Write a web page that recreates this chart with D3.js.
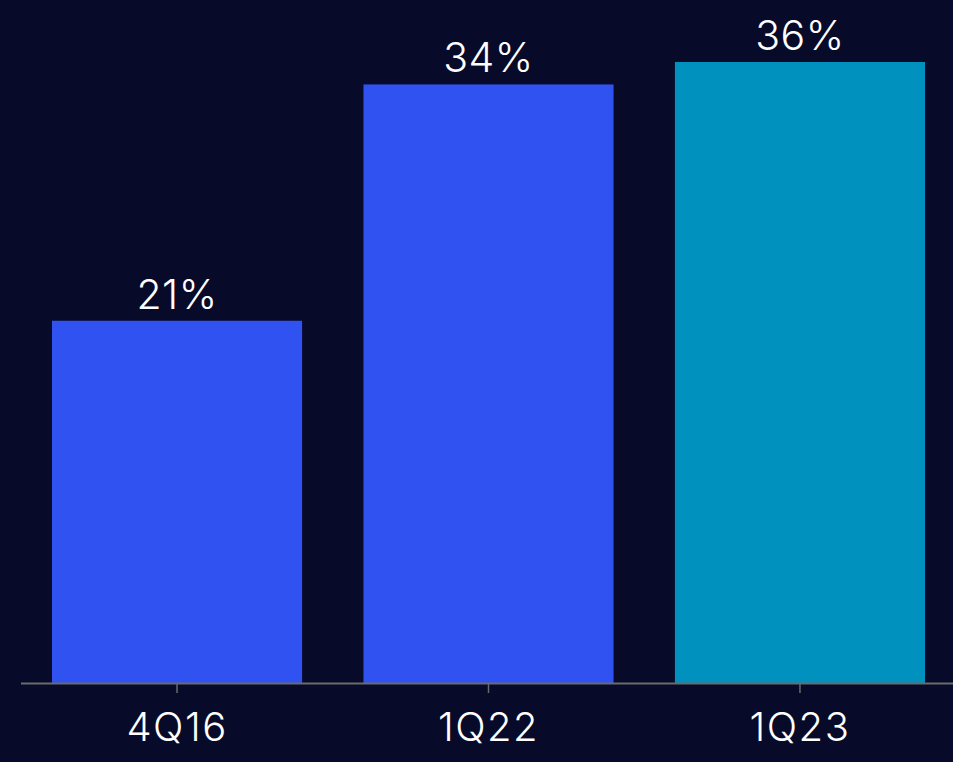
<!DOCTYPE html>
<html>
<head>
<meta charset="utf-8">
<script src="https://cdn.jsdelivr.net/npm/d3@7"></script>
<style>
  html, body { margin: 0; padding: 0; background: #080a2a; }
  svg { display: block; }
</style>
</head>
<body>
<svg id="chart" width="953" height="762"></svg>
<script>
const categories = ["4Q16", "1Q22", "1Q23"];
const values = [21.0, 34.7, 36.0];
const valueLabels = ["21%", "34%", "36%"];
const barColors = ["#2f52f0", "#2f52f0", "#0091be"];

const W = 953, H = 762;
const svg = d3.select("#chart");
svg.append("rect").attr("width", W).attr("height", H).attr("fill", "#080a2a");

const x = d3.scaleBand().domain(categories).range([21, 956]).paddingInner(0.197).paddingOuter(0.0995);
const y = d3.scaleLinear().domain([0, 36]).range([683, 62]);

const data = categories.map((c, i) => ({ c, v: values[i], label: valueLabels[i], color: barColors[i] }));

svg.selectAll("rect.bar").data(data).join("rect")
  .attr("class", "bar")
  .attr("x", d => x(d.c))
  .attr("y", d => y(d.v))
  .attr("width", x.bandwidth())
  .attr("height", d => y(0) - y(d.v))
  .attr("fill", d => d.color);

svg.selectAll("text.val").data(data).join("text")
  .attr("class", "val")
  .attr("x", d => x(d.c) + x.bandwidth() / 2)
  .attr("y", d => y(d.v) - 12)
  .attr("text-anchor", "middle")
  .attr("fill", "#ffffff")
  .style("font-family", "Inter, sans-serif")
  .style("font-weight", 300)
  .style("font-size", "41px")
  .style("letter-spacing", "0.5px")
  .text(d => d.label);

const axis = svg.append("g").attr("transform", "translate(0,683)")
  .call(d3.axisBottom(x).tickSize(10).tickPadding(20).tickSizeOuter(0));
axis.select(".domain").attr("stroke", "#6b6b6b").attr("stroke-width", 2).attr("d", "M21,0.5H953");
axis.selectAll(".tick line").attr("stroke", "#6b6b6b").attr("stroke-width", 1.5);
axis.selectAll(".tick text")
  .attr("fill", "#ffffff")
  .style("font-family", "Inter, sans-serif")
  .style("font-weight", 300)
  .style("font-size", "40px")
  .style("letter-spacing", "1.5px");
</script>
</body>
</html>
